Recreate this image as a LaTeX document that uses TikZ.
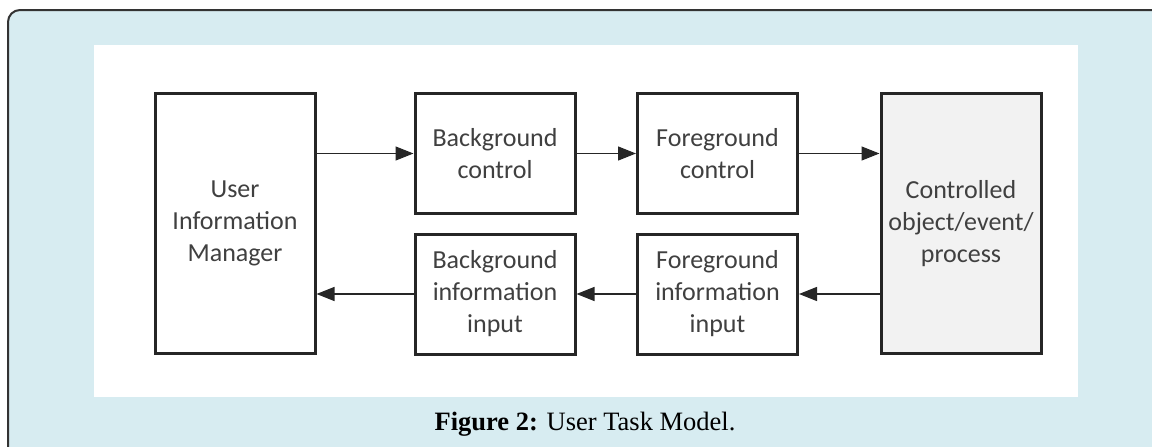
\documentclass[tikz,border=0pt]{standalone}
\usepackage{fontspec}
\setmainfont{Liberation Serif}
\newfontfamily\boxfont{Carlito}
\usetikzlibrary{arrows.meta}
\definecolor{panelblue}{HTML}{D7ECF1}
\definecolor{boxtext}{HTML}{404040}
\definecolor{ctlfill}{HTML}{F2F2F2}
\begin{document}
\begin{tikzpicture}[x=1pt,y=-1pt,
  blk/.style={draw=black!85, line width=3pt, minimum width=160pt, inner sep=0pt,
    align=center, font=\boxfont\fontsize{26}{32}\selectfont, text=boxtext},
  smallblk/.style={blk, minimum height=120pt},
  tallblk/.style={blk, minimum height=260pt},
  flow/.style={line width=1.2pt, black!85, -{Triangle[length=18pt,width=14pt]}}]
\useasboundingbox (0,0) rectangle (1152,447);
\fill[panelblue, rounded corners=12pt] (8,470) -- (8,10) -- (1170,10) -- (1170,470) -- cycle;
\draw[line width=2pt, black!80, rounded corners=12pt] (8,470) -- (8,10) -- (1170,10);
\fill[white] (94,45) rectangle (1078,397);
\node (uim) [tallblk] at (235,223.5) {User\\Information\\Manager};
\node (bc) [smallblk] at (495,153.5) {Background\\control};
\node (fc) [smallblk] at (717.5,153.5) {Foreground\\control};
\node (ctl) [tallblk, fill=ctlfill] at (961,223.5) {Controlled\\object/event/\\process};
\node (bii) [smallblk] at (495,294) {Background\\information\\input};
\node (fii) [smallblk] at (717.5,294) {Foreground\\information\\input};
\draw[flow] (uim.east |- bc.west) -- (bc.west);
\draw[flow] (bc.east) -- (fc.west);
\draw[flow] (fc.east) -- (ctl.west |- fc.east);
\draw[flow] (ctl.west |- fii.east) -- (fii.east);
\draw[flow] (fii.west) -- (bii.east);
\draw[flow] (bii.west) -- (uim.east |- bii.west);
\node (cap) [anchor=base, font=\fontsize{26.5}{30}\selectfont] at (585,430) {\textbf{Figure 2:} User Task Model.};
\end{tikzpicture}
\end{document}
